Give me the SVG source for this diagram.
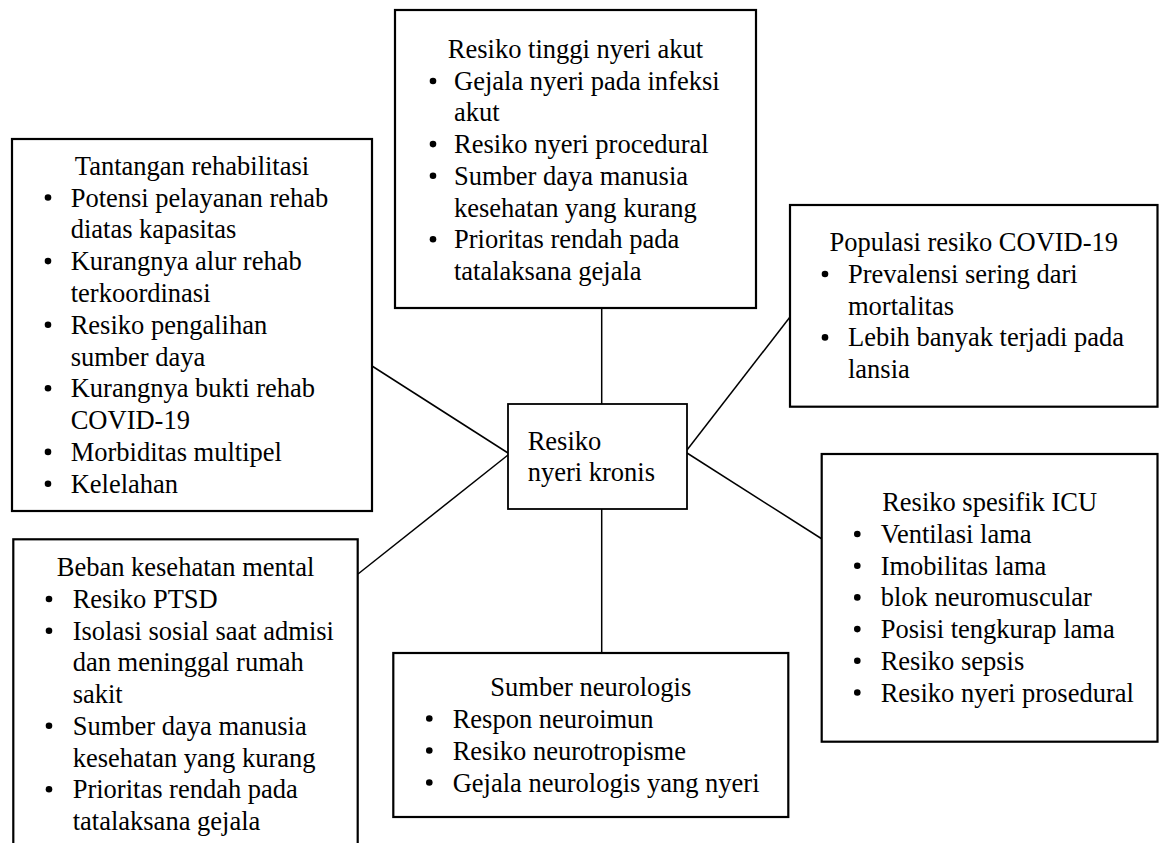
<svg xmlns="http://www.w3.org/2000/svg" width="1160" height="843" viewBox="0 0 1160 843">
<style>
.box{fill:#fff;stroke:#000;stroke-width:2.2}
.cbox{fill:#fff;stroke:#000;stroke-width:1.8}
.conn{stroke:#000;stroke-width:1.5;fill:none}
text{font-family:"Liberation Serif","Times New Roman",serif;font-size:26.5px;fill:#000}
.t{text-anchor:middle}
.b{fill:#000}
</style>
<rect width="1160" height="843" fill="#fff"/>
<g id="connectors">
<line class="conn" x1="601.7" y1="308" x2="601.7" y2="404"/>
<line class="conn" x1="601.7" y1="509" x2="601.7" y2="653"/>
<line class="conn" x1="372" y1="366" x2="508" y2="453"/>
<line class="conn" x1="358" y1="574" x2="508" y2="455"/>
<line class="conn" x1="687" y1="450" x2="790" y2="317"/>
<line class="conn" x1="687" y1="453" x2="822" y2="539"/>
</g>
<g id="node-top">
<rect class="box" x="395" y="10" width="361" height="298"/>
<text class="t" x="575.5" y="58">Resiko tinggi nyeri akut</text>
<circle class="b" cx="433" cy="81" r="3.3"/>
<text x="454" y="89.7">Gejala nyeri pada infeksi</text>
<text x="454" y="121.4">akut</text>
<circle class="b" cx="433" cy="144.1" r="3.3"/>
<text x="454" y="153.1">Resiko nyeri procedural</text>
<circle class="b" cx="433" cy="175.8" r="3.3"/>
<text x="454" y="184.8">Sumber daya manusia</text>
<text x="454" y="216.5">kesehatan yang kurang</text>
<circle class="b" cx="433" cy="239.2" r="3.3"/>
<text x="454" y="248.2">Prioritas rendah pada</text>
<text x="454" y="279.9">tatalaksana gejala</text>
</g>
<g id="node-rehab">
<rect class="box" x="12" y="139" width="360" height="372"/>
<text class="t" x="192" y="174.7">Tantangan rehabilitasi</text>
<circle class="b" cx="48" cy="197.5" r="3.3"/>
<text x="70.7" y="206.5">Potensi pelayanan rehab</text>
<text x="70.7" y="238.3">diatas kapasitas</text>
<circle class="b" cx="48" cy="261.1" r="3.3"/>
<text x="70.7" y="270.1">Kurangnya alur rehab</text>
<text x="70.7" y="301.9">terkoordinasi</text>
<circle class="b" cx="48" cy="324.7" r="3.3"/>
<text x="70.7" y="333.7">Resiko pengalihan</text>
<text x="70.7" y="365.5">sumber daya</text>
<circle class="b" cx="48" cy="388.3" r="3.3"/>
<text x="70.7" y="397.3">Kurangnya bukti rehab</text>
<text x="70.7" y="429.1">COVID-19</text>
<circle class="b" cx="48" cy="451.9" r="3.3"/>
<text x="70.7" y="460.9">Morbiditas multipel</text>
<circle class="b" cx="48" cy="483.7" r="3.3"/>
<text x="70.7" y="492.7">Kelelahan</text>
</g>
<g id="node-populasi">
<rect class="box" x="790" y="205" width="367.5" height="201.7"/>
<text class="t" x="973.8" y="251.3">Populasi resiko COVID-19</text>
<circle class="b" cx="825" cy="274" r="3.3"/>
<text x="848" y="283">Prevalensi sering dari</text>
<text x="848" y="314.7">mortalitas</text>
<circle class="b" cx="825" cy="337.4" r="3.3"/>
<text x="848" y="346.4">Lebih banyak terjadi pada</text>
<text x="848" y="378.1">lansia</text>
</g>
<g id="node-center">
<rect class="cbox" x="508" y="404" width="179" height="105"/>
<text x="527.7" y="450">Resiko</text>
<text x="527.7" y="481">nyeri kronis</text>
</g>
<g id="node-mental">
<rect class="box" x="13.3" y="539.3" width="344.4" height="320"/>
<text class="t" x="185.5" y="576.3">Beban kesehatan mental</text>
<circle class="b" cx="49" cy="599" r="3.3"/>
<text x="72.7" y="608">Resiko PTSD</text>
<circle class="b" cx="49" cy="630.7" r="3.3"/>
<text x="72.7" y="639.7">Isolasi sosial saat admisi</text>
<text x="72.7" y="671.4">dan meninggal rumah</text>
<text x="72.7" y="703.1">sakit</text>
<circle class="b" cx="49" cy="725.8" r="3.3"/>
<text x="72.7" y="734.8">Sumber daya manusia</text>
<text x="72.7" y="766.5">kesehatan yang kurang</text>
<circle class="b" cx="49" cy="789.2" r="3.3"/>
<text x="72.7" y="798.2">Prioritas rendah pada</text>
<text x="72.7" y="829.9">tatalaksana gejala</text>
</g>
<g id="node-neuro">
<rect class="box" x="393.3" y="653" width="395" height="164"/>
<text class="t" x="590.8" y="695.5">Sumber neurologis</text>
<circle class="b" cx="429.3" cy="718.5" r="3.3"/>
<text x="452.7" y="727.5">Respon neuroimun</text>
<circle class="b" cx="429.3" cy="750.5" r="3.3"/>
<text x="452.7" y="759.5">Resiko neurotropisme</text>
<circle class="b" cx="429.3" cy="782.5" r="3.3"/>
<text x="452.7" y="791.5">Gejala neurologis yang nyeri</text>
</g>
<g id="node-icu">
<rect class="box" x="821.7" y="454" width="335.8" height="287.7"/>
<text class="t" x="989.6" y="511.3">Resiko spesifik ICU</text>
<circle class="b" cx="857.3" cy="534" r="3.3"/>
<text x="880.7" y="543">Ventilasi lama</text>
<circle class="b" cx="857.3" cy="565.7" r="3.3"/>
<text x="880.7" y="574.7">Imobilitas lama</text>
<circle class="b" cx="857.3" cy="597.4" r="3.3"/>
<text x="880.7" y="606.4">blok neuromuscular</text>
<circle class="b" cx="857.3" cy="629.1" r="3.3"/>
<text x="880.7" y="638.1">Posisi tengkurap lama</text>
<circle class="b" cx="857.3" cy="660.8" r="3.3"/>
<text x="880.7" y="669.8">Resiko sepsis</text>
<circle class="b" cx="857.3" cy="692.5" r="3.3"/>
<text x="880.7" y="701.5">Resiko nyeri prosedural</text>
</g>
</svg>
